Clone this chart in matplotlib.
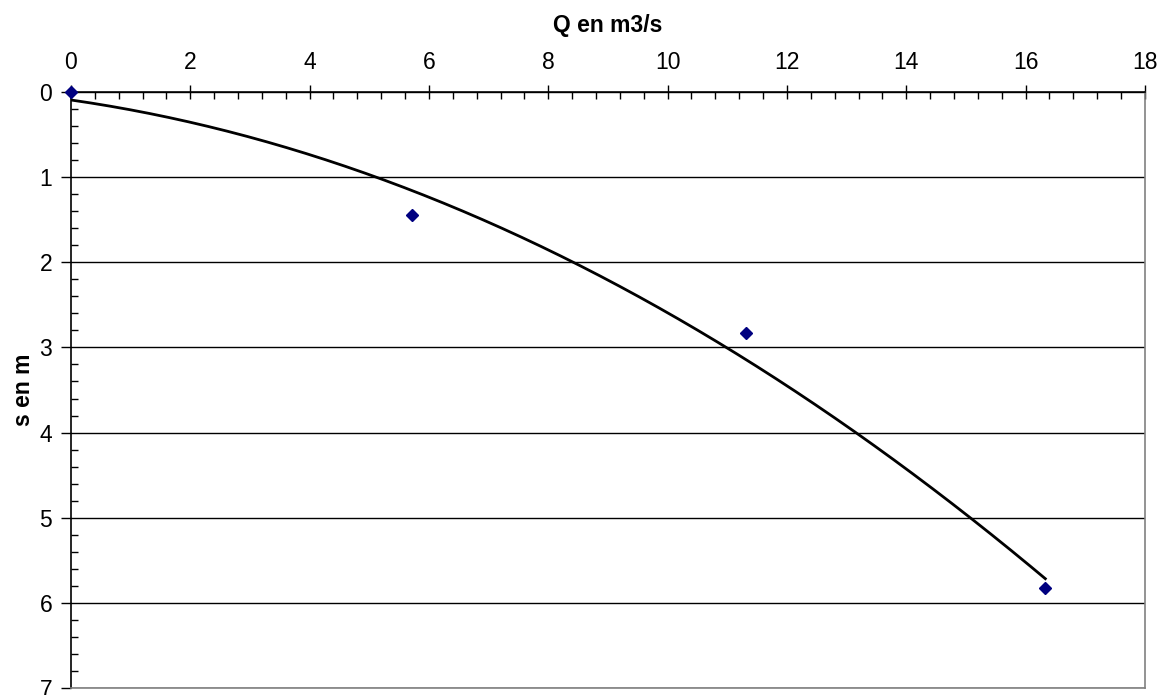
import numpy as np
import matplotlib.pyplot as plt
from matplotlib.ticker import MultipleLocator

plt.rcParams['font.family'] = ['Liberation Sans', 'DejaVu Sans']

# mesures
Q = [0.0, 5.72, 11.31, 16.33]
s = [0.0, 1.45, 2.83, 5.83]

# courbe de tendance polynomiale (ordre 2)
coef = np.polyfit(Q, s, 2)
qq = np.linspace(min(Q), max(Q), 200)
ss = np.polyval(coef, qq)

fig = plt.figure(figsize=(11.65, 6.95), dpi=100)
ax = fig.add_axes([0.0609, 0.0101, 0.9219, 0.8575])

ax.plot(qq, ss, color='black', lw=2.0, zorder=3)
ax.plot(Q, s, 'D', color='#000080', ms=6, zorder=4, clip_on=False)

ax.set_xlim(0, 18)
ax.set_ylim(7, 0)
ax.xaxis.set_major_locator(MultipleLocator(2))
ax.xaxis.set_minor_locator(MultipleLocator(0.4))
ax.yaxis.set_major_locator(MultipleLocator(1))
ax.yaxis.set_minor_locator(MultipleLocator(0.2))
ax.xaxis.tick_top()
ax.xaxis.set_label_position('top')

ax.tick_params(axis='x', which='major', direction='inout', length=10, width=1,
               labelsize=16.5, pad=8)
ax.tick_params(axis='x', which='minor', direction='in', length=5, width=1)
ax.tick_params(axis='y', which='major', direction='out', length=7, width=1,
               labelsize=16.5, pad=6.5)
ax.tick_params(axis='y', which='minor', direction='in', length=5, width=1)

ax.grid(axis='y', which='major', color='black', lw=1)
ax.set_axisbelow(True)

for side in ['top', 'left']:
    ax.spines[side].set_color('black')
    ax.spines[side].set_linewidth(1.2)
for side in ['right', 'bottom']:
    ax.spines[side].set_color('#808080')
    ax.spines[side].set_linewidth(1.2)

ax.set_xlabel('Q en m3/s', fontsize=16.5, fontweight='bold', labelpad=14)
ax.set_ylabel('s en m', fontsize=16.5, fontweight='bold', labelpad=3)

fig.savefig('out.png', dpi=100)
